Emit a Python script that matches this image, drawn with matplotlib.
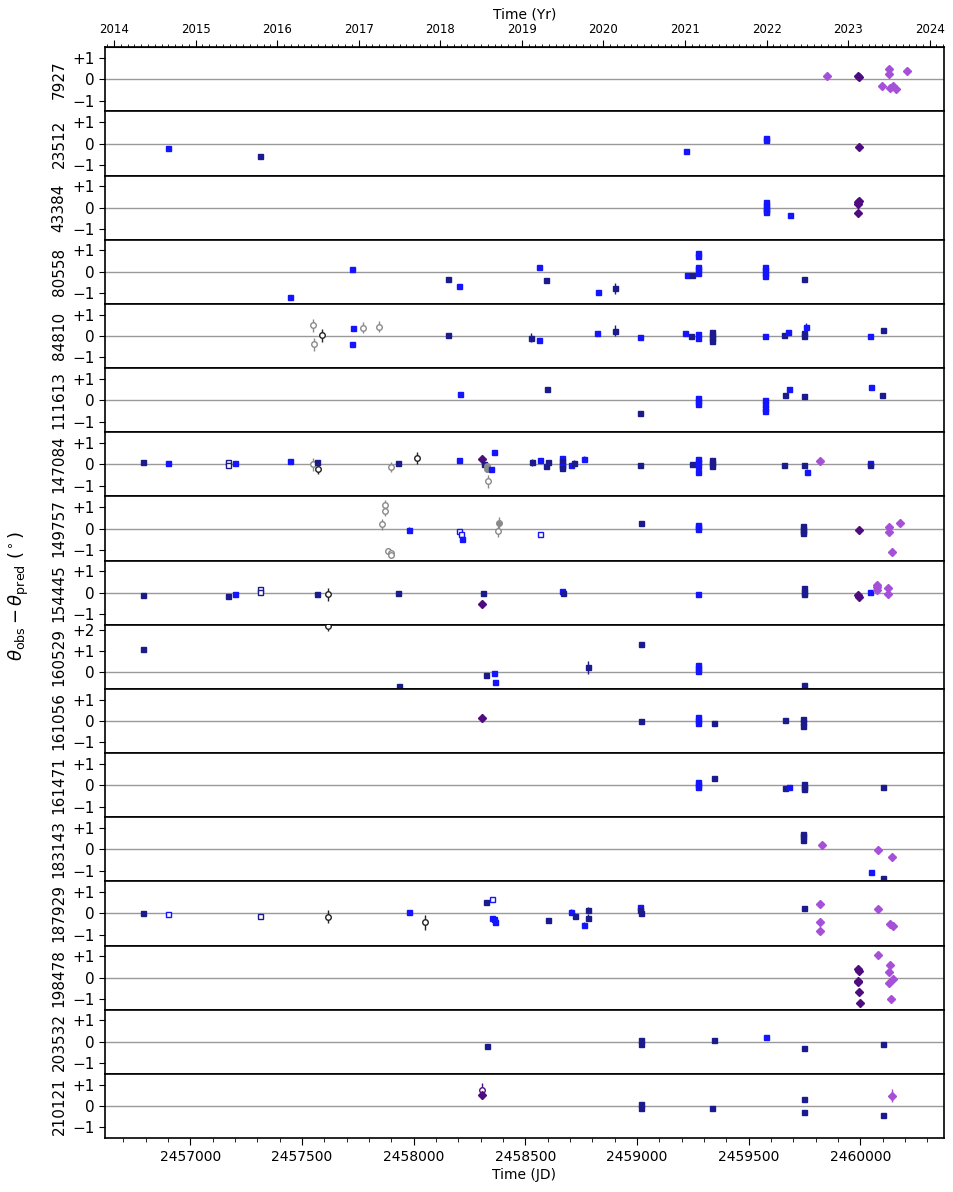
import numpy as np
import matplotlib
matplotlib.use("Agg")
import matplotlib.pyplot as plt
from matplotlib.ticker import MultipleLocator, FixedLocator

# each point: (JD, theta_obs - theta_pred in deg, error, kind)
# kind: n=navy sq, b=blue sq, no/bo=open sq, g=grey circle, gf=grey filled,
#       k=black circle, i=indigo diamond, io=indigo open, o=orchid diamond
hip7927 = [
    (2459852, 0.16, 0, 'o'), (2459988, 0.14, 0, 'i'), (2459996, 0.12, 0, 'i'),
    (2460127, 0.47, 0, 'o'), (2460127, 0.25, 0, 'o'), (2460208, 0.39, 0, 'o'),
    (2460096, -0.31, 0, 'o'), (2460133, -0.39, 0, 'o'), (2460148, -0.30, 0, 'o'),
    (2460162, -0.44, 0, 'o'),
]
hip23512 = [
    (2456899, -0.19, 0, 'b'), (2457311, -0.60, 0, 'n'), (2459219, -0.36, 0, 'b'),
    (2459576, 0.25, 0, 'b'), (2459576, 0.15, 0, 'b'), (2459994, -0.16, 0.12, 'i'),
]
hip43384 = [
    (2459576, 0.25, 0, 'b'), (2459576, 0.12, 0, 'b'), (2459576, 0.0, 0, 'b'),
    (2459576, -0.12, 0, 'b'), (2459576, -0.2, 0, 'b'), (2459684, -0.35, 0, 'b'),
    (2459992, 0.25, 0, 'i'), (2459996, 0.3, 0, 'i'), (2459989, 0.17, 0, 'i'),
    (2459989, -0.27, 0, 'i'),
]
hip80558 = [
    (2457446, -1.16, 0, 'b'), (2457724, 0.13, 0, 'b'), (2458156, -0.33, 0.1, 'n'),
    (2458202, -0.66, 0, 'b'), (2458562, 0.22, 0, 'b'), (2458591, -0.36, 0, 'n'),
    (2458826, -0.93, 0, 'b'), (2458900, -0.77, 0.25, 'n'), (2459222, -0.14, 0, 'b'),
    (2459248, -0.13, 0, 'n'), (2459272, 0.88, 0, 'b'), (2459272, 0.72, 0, 'b'),
    (2459272, 0.22, 0, 'b'), (2459272, 0.13, 0, 'b'), (2459272, -0.03, 0, 'b'),
    (2459575, 0.25, 0, 'b'), (2459575, 0.1, 0, 'b'), (2459575, -0.05, 0, 'b'),
    (2459575, -0.2, 0, 'b'), (2459748, -0.31, 0, 'n'),
]
hip84810 = [
    (2457549, 0.5, 0.3, 'g'), (2457554, -0.39, 0.3, 'g'), (2457588, 0.03, 0.3, 'k'),
    (2457729, 0.36, 0, 'b'), (2457724, -0.36, 0, 'b'), (2457772, 0.39, 0.25, 'g'),
    (2457844, 0.44, 0.25, 'g'), (2458156, 0.05, 0.08, 'n'), (2458526, -0.08, 0.2, 'n'),
    (2458560, -0.17, 0, 'b'), (2458821, 0.13, 0.08, 'b'), (2458900, 0.25, 0.25, 'n'),
    (2459013, -0.06, 0, 'b'), (2459217, 0.13, 0, 'b'), (2459244, 0.0, 0, 'n'),
    (2459272, 0.1, 0, 'b'), (2459272, -0.1, 0, 'b'), (2459335, 0.19, 0, 'n'),
    (2459335, 0.05, 0, 'n'), (2459337, -0.1, 0, 'n'), (2459337, -0.25, 0, 'n'),
    (2459575, 0.0, 0, 'b'), (2459659, 0.06, 0, 'n'), (2459678, 0.19, 0, 'b'),
    (2459748, 0.12, 0, 'n'), (2459748, 0.02, 0, 'n'), (2459755, 0.42, 0.18, 'b'),
    (2460043, -0.02, 0, 'b'), (2460100, 0.27, 0, 'n'),
]
hip111613 = [
    (2458209, 0.28, 0, 'b'), (2458596, 0.5, 0, 'n'), (2459013, -0.58, 0, 'n'),
    (2459275, 0.1, 0, 'b'), (2459275, -0.05, 0, 'b'), (2459275, -0.17, 0, 'b'),
    (2459575, 0.0, 0, 'b'), (2459575, -0.2, 0, 'b'), (2459575, -0.35, 0, 'b'),
    (2459575, -0.5, 0, 'b'), (2459661, 0.25, 0, 'n'), (2459680, 0.5, 0, 'b'),
    (2459748, 0.19, 0, 'n'), (2460048, 0.6, 0, 'b'), (2460098, 0.24, 0, 'n'),
]
hip147084 = [
    (2456788, 0.09, 0, 'n'), (2456899, 0.06, 0, 'b'), (2457168, 0.13, 0, 'no'),
    (2457168, -0.02, 0, 'no'), (2457201, 0.06, 0, 'b'), (2457448, 0.16, 0, 'b'),
    (2457549, 0.0, 0.3, 'g'), (2457566, 0.11, 0, 'n'), (2457571, -0.2, 0.25, 'k'),
    (2457897, -0.13, 0.25, 'g'), (2457928, 0.08, 0, 'n'), (2458015, 0.3, 0.3, 'k'),
    (2458204, 0.22, 0, 'b'), (2458305, 0.25, 0.1, 'i'), (2458317, 0.03, 0, 'n'),
    (2458329, -0.1, 0.15, 'gf'), (2458329, -0.2, 0.15, 'gf'), (2458332, -0.79, 0.3, 'g'),
    (2458346, -0.24, 0, 'b'), (2458360, 0.58, 0, 'b'), (2458531, 0.09, 0.15, 'n'),
    (2458567, 0.22, 0, 'b'), (2458591, -0.06, 0, 'n'), (2458603, 0.13, 0, 'n'),
    (2458663, 0.3, 0, 'b'), (2458663, 0.15, 0, 'n'), (2458663, 0.0, 0, 'n'),
    (2458663, -0.1, 0, 'b'), (2458663, -0.19, 0, 'n'), (2458706, -0.03, 0, 'b'),
    (2458720, 0.08, 0.1, 'n'), (2458761, 0.25, 0.15, 'b'), (2459013, -0.02, 0, 'n'),
    (2459248, 0.03, 0, 'n'), (2459272, 0.25, 0, 'b'), (2459272, 0.1, 0, 'b'),
    (2459272, -0.1, 0, 'b'), (2459272, -0.36, 0, 'b'), (2459337, 0.2, 0, 'n'),
    (2459337, 0.05, 0, 'n'), (2459337, -0.1, 0, 'n'), (2459659, -0.02, 0, 'n'),
    (2459748, -0.05, 0, 'n'), (2459760, -0.35, 0.15, 'b'), (2459820, 0.14, 0.1, 'o'),
    (2460043, 0.05, 0, 'b'), (2460043, -0.05, 0, 'n'),
]
hip149757 = [
    (2457873, 1.1, 0.25, 'g'), (2457873, 0.83, 0.25, 'g'), (2457859, 0.19, 0.25, 'g'),
    (2457885, -1.04, 0.15, 'g'), (2457900, -1.15, 0.15, 'g'), (2457900, -1.25, 0.15, 'g'),
    (2457981, -0.05, 0.1, 'b'), (2458204, -0.14, 0, 'bo'), (2458214, -0.25, 0, 'bo'),
    (2458216, -0.47, 0, 'b'), (2458382, 0.27, 0.25, 'gf'), (2458380, -0.14, 0.25, 'g'),
    (2458564, -0.24, 0, 'bo'), (2459018, 0.27, 0, 'n'), (2459275, 0.15, 0, 'b'),
    (2459275, 0.05, 0, 'b'), (2459275, -0.03, 0, 'b'), (2459745, 0.12, 0, 'n'),
    (2459745, 0.0, 0, 'n'), (2459745, -0.1, 0, 'n'), (2459745, -0.22, 0, 'n'),
    (2459995, -0.05, 0, 'i'), (2460129, 0.06, 0, 'o'), (2460129, -0.16, 0, 'o'),
    (2460177, 0.24, 0, 'o'), (2460141, -1.08, 0, 'o'),
]
hip154445 = [
    (2456788, -0.13, 0, 'n'), (2457168, -0.14, 0, 'n'), (2457201, -0.05, 0, 'b'),
    (2457314, 0.17, 0, 'no'), (2457314, 0.02, 0, 'no'), (2457566, -0.08, 0, 'n'),
    (2457616, -0.08, 0.3, 'k'), (2457928, -0.02, 0, 'n'), (2458310, -0.03, 0, 'n'),
    (2458305, -0.53, 0.15, 'i'), (2458663, 0.09, 0, 'b'), (2458668, 0.0, 0, 'n'),
    (2459275, -0.08, 0, 'b'), (2459748, 0.22, 0, 'n'), (2459748, 0.05, 0, 'n'),
    (2459748, -0.05, 0, 'n'), (2459990, -0.13, 0, 'i'), (2459993, -0.2, 0, 'i'),
    (2460045, 0.02, 0, 'b'), (2460076, 0.38, 0, 'o'), (2460076, 0.14, 0, 'o'),
    (2460076, 0.25, 0, 'o'), (2460124, 0.22, 0, 'o'), (2460124, -0.05, 0, 'o'),
]
hip160529 = [
    (2456788, 1.08, 0, 'n'), (2457616, 2.15, 0.2, 'k'), (2457933, -0.63, 0, 'n'),
    (2458322, -0.13, 0, 'n'), (2458360, -0.02, 0, 'b'), (2458363, -0.44, 0, 'b'),
    (2458783, 0.25, 0.3, 'n'), (2459016, 1.34, 0, 'n'), (2459275, 0.35, 0, 'b'),
    (2459275, 0.2, 0, 'b'), (2459275, 0.06, 0, 'b'), (2459748, -0.6, 0, 'n'),
]
hip161056 = [
    (2458305, 0.14, 0.2, 'i'), (2459016, 0.0, 0, 'n'), (2459275, 0.18, 0, 'b'),
    (2459275, 0.05, 0, 'b'), (2459275, -0.08, 0, 'b'), (2459347, -0.09, 0, 'n'),
    (2459661, 0.06, 0, 'n'), (2459745, 0.1, 0, 'n'), (2459745, -0.05, 0, 'n'),
    (2459745, -0.22, 0, 'n'),
]
hip161471 = [
    (2459275, 0.14, 0, 'b'), (2459275, 0.0, 0, 'b'), (2459275, -0.1, 0, 'b'),
    (2459347, 0.33, 0, 'n'), (2459664, -0.15, 0, 'n'), (2459680, -0.08, 0, 'b'),
    (2459748, 0.03, 0, 'n'), (2459748, -0.1, 0, 'n'), (2459748, -0.2, 0, 'n'),
    (2460100, -0.11, 0, 'n'),
]
hip183143 = [
    (2459745, 0.7, 0, 'n'), (2459745, 0.6, 0, 'n'), (2459745, 0.45, 0, 'n'),
    (2459827, 0.19, 0, 'o'), (2460081, -0.03, 0, 'o'), (2460144, -0.38, 0, 'o'),
    (2460048, -1.05, 0, 'b'), (2460100, -1.35, 0, 'n'),
]
hip187929 = [
    (2456788, 0.03, 0, 'n'), (2456901, -0.02, 0, 'bo'), (2457312, -0.13, 0, 'no'),
    (2457616, -0.16, 0.3, 'k'), (2457979, 0.05, 0.1, 'b'), (2458051, -0.42, 0.35, 'k'),
    (2458324, 0.53, 0, 'n'), (2458351, 0.66, 0, 'bo'), (2458351, -0.22, 0, 'b'),
    (2458358, -0.28, 0, 'b'), (2458363, -0.42, 0, 'b'), (2458603, -0.31, 0, 'n'),
    (2458706, 0.08, 0.15, 'b'), (2458723, -0.13, 0.15, 'n'), (2458761, -0.55, 0.15, 'b'),
    (2458783, 0.16, 0.15, 'n'), (2458783, -0.19, 0.15, 'n'), (2459013, 0.31, 0, 'b'),
    (2459013, 0.16, 0, 'n'), (2459016, 0.0, 0, 'n'), (2459748, 0.25, 0, 'n'),
    (2459820, 0.44, 0.1, 'o'), (2459820, -0.38, 0.1, 'o'), (2459820, -0.8, 0.1, 'o'),
    (2460079, 0.2, 0, 'o'), (2460134, -0.5, 0, 'o'), (2460146, -0.6, 0, 'o'),
]
hip198478 = [
    (2459990, 0.38, 0, 'i'), (2459993, 0.31, 0, 'i'), (2459992, -0.22, 0, 'i'),
    (2459990, -0.17, 0, 'i'), (2459995, -0.68, 0, 'i'), (2459997, -1.18, 0, 'i'),
    (2460081, 1.05, 0, 'o'), (2460132, 0.58, 0, 'o'), (2460129, 0.27, 0, 'o'),
    (2460146, -0.05, 0, 'o'), (2460127, -0.27, 0, 'o'), (2460136, -1.0, 0, 'o'),
]
hip203532 = [
    (2458327, -0.22, 0, 'n'), (2459016, 0.09, 0, 'n'), (2459016, -0.09, 0, 'n'),
    (2459344, 0.08, 0, 'n'), (2459577, 0.22, 0, 'b'), (2459748, -0.31, 0, 'n'),
    (2460100, -0.11, 0, 'n'),
]
hip210121 = [
    (2458308, 0.74, 0.35, 'io'), (2458308, 0.49, 0.15, 'i'), (2459016, 0.09, 0, 'n'),
    (2459016, -0.1, 0, 'n'), (2459337, -0.11, 0, 'n'), (2459748, 0.33, 0, 'n'),
    (2459748, -0.27, 0, 'n'), (2460103, -0.42, 0, 'n'), (2460144, 0.47, 0.3, 'o'),
]

star_names = ["7927", "23512", "43384", "80558", "84810", "111613", "147084",
              "149757", "154445", "160529", "161056", "161471", "183143",
              "187929", "198478", "203532", "210121"]
star_data = [hip7927, hip23512, hip43384, hip80558, hip84810, hip111613, hip147084,
             hip149757, hip154445, hip160529, hip161056, hip161471, hip183143,
             hip187929, hip198478, hip203532, hip210121]

year_ticks = list(range(2014, 2025))

NAVY = '#1b1b8c'
BLUE = '#1414ff'
INDIGO = '#4e0c80'
ORCHID = '#a64fd8'
styles = {
    'n':  dict(marker='s', ms=3.6, mfc=NAVY, mec=NAVY, color=NAVY),
    'b':  dict(marker='s', ms=3.6, mfc=BLUE, mec=BLUE, color=BLUE),
    'no': dict(marker='s', ms=3.6, mfc='white', mec=NAVY, color=NAVY),
    'bo': dict(marker='s', ms=3.6, mfc='white', mec=BLUE, color=BLUE),
    'g':  dict(marker='o', ms=4, mfc='white', mec='#8a8a8a', color='#8a8a8a'),
    'gf': dict(marker='o', ms=4, mfc='#8a8a8a', mec='#8a8a8a', color='#8a8a8a'),
    'k':  dict(marker='o', ms=4, mfc='white', mec='#222222', color='#222222'),
    'i':  dict(marker='D', ms=4, mfc=INDIGO, mec=INDIGO, color=INDIGO),
    'io': dict(marker='o', ms=4, mfc='white', mec=INDIGO, color=INDIGO),
    'o':  dict(marker='D', ms=4, mfc=ORCHID, mec=ORCHID, color=ORCHID),
}

JD0, JD1 = 2456617.7, 2460375


def jd2yr(jd):
    return 2000.0 + (np.asarray(jd, dtype=float) - 2451545.0) / 365.25


def yr2jd(yr):
    return 2451545.0 + (np.asarray(yr, dtype=float) - 2000.0) * 365.25


fig = plt.figure(figsize=(9.54, 11.92), dpi=100)
n = len(star_names)
left, right, top, bottom = 0.110, 0.9895, 0.9603, 0.0453
h = (top - bottom) / n
axes = []
for i, (name, pts) in enumerate(zip(star_names, star_data)):
    ax = fig.add_axes([left, top - (i + 1) * h, right - left, h])
    axes.append(ax)
    ax.axhline(0, color='#999999', lw=1, zorder=1)
    for jd, val, err, kind in pts:
        st = styles[kind]
        ax.errorbar(jd, val, yerr=err if err > 0 else None, fmt='none',
                    ecolor=st['color'], elinewidth=1, capsize=0, zorder=2)
        ax.plot(jd, val, linestyle='none', marker=st['marker'], ms=st['ms'],
                mfc=st['mfc'], mec=st['mec'], mew=1, zorder=3)
    ax.set_xlim(JD0, JD1)
    if name == "160529":
        ax.set_ylim(-0.77, 2.23)
        ax.set_yticks([0, 1, 2])
        ax.set_yticklabels(["0", "+1", "+2"])
    else:
        ax.set_ylim(-1.5, 1.5)
        ax.set_yticks([-1, 0, 1])
        ax.set_yticklabels(["\u22121", "0", "+1"])
    ax.tick_params(axis='y', labelsize=11, length=4)
    ax.set_ylabel(name, fontsize=11, labelpad=4)
    if i < n - 1:
        ax.tick_params(axis='x', bottom=False, labelbottom=False)
    for sp in ax.spines.values():
        sp.set_linewidth(1.2)

# bottom axis in JD
axb = axes[-1]
axb.xaxis.set_major_locator(MultipleLocator(500))
axb.xaxis.set_minor_locator(MultipleLocator(100))
axb.ticklabel_format(axis='x', useOffset=False, style='plain')
axb.tick_params(axis='x', labelsize=10, length=5)
axb.tick_params(axis='x', which='minor', length=3)
axb.set_xlabel("Time (JD)", fontsize=10, labelpad=3)

# top axis in years
axt = axes[0].secondary_xaxis('top', functions=(jd2yr, yr2jd))
axt.xaxis.set_major_locator(FixedLocator(year_ticks))
axt.xaxis.set_minor_locator(MultipleLocator(1 / 12))
axt.tick_params(axis='x', labelsize=8.5, length=5)
axt.tick_params(axis='x', which='minor', length=2.5)
axt.set_xlabel("Time (Yr)", fontsize=10, labelpad=3)

fig.text(0.02, 0.5, r"$\theta_{\rm obs} - \theta_{\rm pred}$ ($^\circ$)",
         rotation=90, va='center', ha='center', fontsize=13)

fig.savefig("out.png", dpi=100)
